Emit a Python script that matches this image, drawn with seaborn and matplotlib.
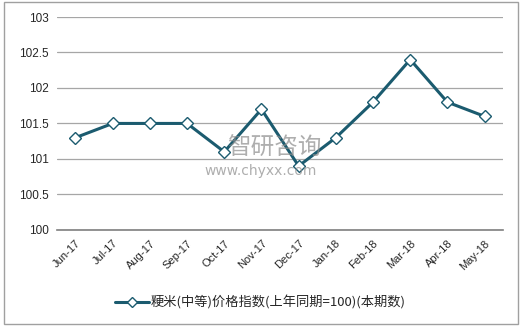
import matplotlib
matplotlib.use("Agg")
import matplotlib.pyplot as plt
import pandas as pd
import seaborn as sns

months = ["Jun-17", "Jul-17", "Aug-17", "Sep-17", "Oct-17", "Nov-17",
          "Dec-17", "Jan-18", "Feb-18", "Mar-18", "Apr-18", "May-18"]
values = [101.3, 101.5, 101.5, 101.5, 101.1, 101.7,
          100.9, 101.3, 101.8, 102.4, 101.8, 101.6]
series_name = "粳米(中等)价格指数(上年同期=100)(本期数)"

sns.set_style("white")
plt.rcParams["font.family"] = ["Noto Sans CJK SC", "DejaVu Sans"]

df = pd.DataFrame({"month": months, "value": values})
df["pos"] = range(len(df))

fig = plt.figure(figsize=(5.22, 3.27), dpi=100)
ax = fig.add_axes([0.109, 0.297, 0.855, 0.651])

color = "#1B5B6F"
sns.lineplot(data=df, x="pos", y="value", ax=ax, color=color, linewidth=2.2,
             marker="D", markersize=6, markerfacecolor="white",
             markeredgecolor=color, markeredgewidth=1.0, label=series_name)

ax.set_xlim(-0.5, len(months) - 0.5)
ax.set_ylim(100, 103)
ax.set_yticks([100, 100.5, 101, 101.5, 102, 102.5, 103])
ax.set_yticklabels(["100", "100.5", "101", "101.5", "102", "102.5", "103"],
                   fontsize=8.5, family=["Liberation Sans", "DejaVu Sans"])
ax.set_xticks(df["pos"])
ax.set_xticklabels(months, rotation=45, ha="right", rotation_mode="anchor",
                   fontsize=8, family=["Liberation Sans", "DejaVu Sans"])
ax.tick_params(axis="both", length=0, pad=6)
ax.set_xlabel("")
ax.set_ylabel("")
ax.grid(axis="y", color="#A6A6A6", linewidth=0.9)
ax.set_axisbelow(True)
for s in ["top", "right", "left"]:
    ax.spines[s].set_visible(False)
ax.spines["bottom"].set_color("#7F7F7F")
ax.spines["bottom"].set_linewidth(1.2)

leg = ax.legend(loc="center", bbox_to_anchor=(0.455, -0.34), frameon=False,
                fontsize=9.5, handlelength=2.6, handletextpad=0.1,
                markerscale=0.8)

# watermark
fig.text(0.525, 0.545, "智研咨询", fontsize=17, color="#8C8C8C", alpha=0.7,
         ha="center", va="center")
fig.text(0.5, 0.478, "www.chyxx.com", fontsize=10, color="#8C8C8C", alpha=0.7,
         ha="center", va="center", family="DejaVu Sans")

# outer frame
fig.patches.append(plt.Rectangle((0.008, 0.008), 0.985, 0.985, fill=False,
                                 edgecolor="#A0A0A0", linewidth=1.0,
                                 transform=fig.transFigure))

fig.savefig("out.png", dpi=100)
